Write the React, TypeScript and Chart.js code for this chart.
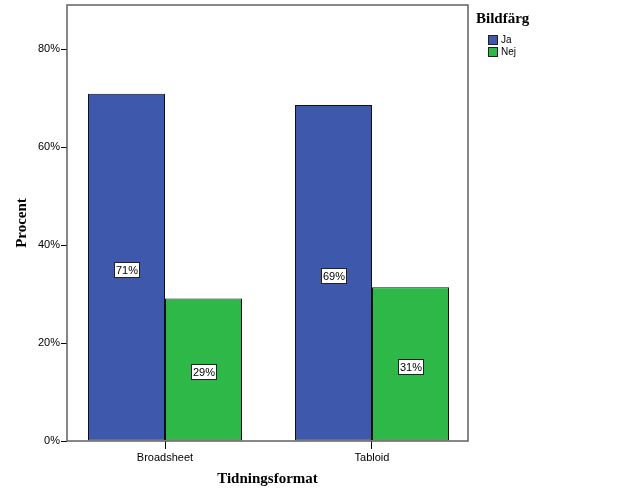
import React, { useEffect, useRef } from 'react';
import { Chart, registerables } from 'chart.js';

Chart.register(...registerables);

const categories = ['Broadsheet', 'Tabloid'];
const seriesNames = ['Ja', 'Nej'];
const jaValues = [70.9, 68.6];
const nejValues = [29.1, 31.4];
const yTicks = [0, 20, 40, 60, 80];
const seriesColors = ['#3E58AC', '#2EB848'];
const xTitle = 'Tidningsformat';
const yTitle = 'Procent';
const legendTitle = 'Bildfärg';

const SANS = '"Liberation Sans", Arial, sans-serif';
const SERIF = '"Liberation Serif", "Times New Roman", serif';

export default function App() {
  const ref = useRef<HTMLCanvasElement | null>(null);

  useEffect(() => {
    if (!ref.current) return;

    const framePlugin = {
      id: 'frame',
      afterDatasetsDraw(chart: any) {
        const { ctx, chartArea } = chart;
        ctx.save();
        ctx.strokeStyle = '#606060';
        ctx.lineWidth = 1.5;
        ctx.strokeRect(chartArea.left, chartArea.top, chartArea.right - chartArea.left, chartArea.bottom - chartArea.top);
        ctx.restore();
      },
    };

    const labelPlugin = {
      id: 'barLabels',
      afterDraw(chart: any) {
        const ctx = chart.ctx;
        ctx.save();
        ctx.font = '11px ' + SANS;
        ctx.textAlign = 'center';
        ctx.textBaseline = 'middle';
        chart.data.datasets.forEach((ds: any, di: number) => {
          const meta = chart.getDatasetMeta(di);
          meta.data.forEach((bar: any, i: number) => {
            const v = ds.data[i].y;
            const text = Math.round(v) + '%';
            const cx = Math.round(bar.x);
            const cy = Math.round((bar.y + bar.base) / 2 + 3);
            const w = Math.round(ctx.measureText(text).width + 4);
            const h = 16;
            const x0 = cx - Math.round(w / 2);
            const y0 = cy - h / 2;
            ctx.fillStyle = '#ffffff';
            ctx.fillRect(x0, y0, w, h);
            ctx.strokeStyle = '#222222';
            ctx.lineWidth = 1;
            ctx.strokeRect(x0 + 0.5, y0 + 0.5, w - 1, h - 1);
            ctx.fillStyle = '#000000';
            ctx.fillText(text, cx, cy + 0.5);
          });
        });
        ctx.restore();
      },
    };

    const legendPlugin = {
      id: 'customLegend',
      afterDraw(chart: any) {
        const ctx = chart.ctx;
        ctx.save();
        ctx.fillStyle = '#000';
        ctx.font = 'bold 15px ' + SERIF;
        ctx.textAlign = 'left';
        ctx.textBaseline = 'middle';
        ctx.fillText(legendTitle, 476, 19);
        ctx.font = '10px ' + SANS;
        chart.data.datasets.forEach((ds: any, i: number) => {
          const y = 35 + i * 12;
          ctx.fillStyle = ds.backgroundColor;
          ctx.fillRect(488, y, 10, 10);
          ctx.strokeStyle = '#222';
          ctx.lineWidth = 1;
          ctx.strokeRect(488.5, y + 0.5, 9, 9);
          ctx.fillStyle = '#000';
          ctx.fillText(ds.label, 501, y + 5.5);
        });
        ctx.restore();
      },
    };

    const chart = new Chart(ref.current, {
      type: 'bar',
      data: {
        datasets: [
          {
            label: seriesNames[0],
            data: categories.map((_, i) => ({ x: i, y: jaValues[i] })),
            backgroundColor: seriesColors[0],
            borderColor: '#111111',
            borderWidth: 1,
            borderSkipped: false,
          },
          {
            label: seriesNames[1],
            data: categories.map((_, i) => ({ x: i, y: nejValues[i] })),
            backgroundColor: seriesColors[1],
            borderColor: '#111111',
            borderWidth: 1,
            borderSkipped: false,
          },
        ],
      },
      options: {
        responsive: false,
        animation: false,
        devicePixelRatio: 1,
        categoryPercentage: 154 / 207,
        barPercentage: 1,
        layout: { padding: { left: 0, top: 5, right: 158, bottom: 0 } },
        plugins: {
          legend: { display: false },
          tooltip: { enabled: false },
        },
        scales: {
          x: {
            type: 'linear',
            offset: false,
            min: (67 - 165) / 207,
            max: 1 + (468 - 372) / 207,
            grid: { offset: false, drawOnChartArea: false, drawTicks: true, tickLength: 8, color: '#000', lineWidth: 1 },
            border: { display: false },
            afterBuildTicks: (s: any) => {
              s.ticks = categories.map((_, i) => ({ value: i }));
            },
            afterFit: (s: any) => {
              s.height = 60;
              s.paddingLeft = 0;
              s.paddingRight = 0;
            },
            ticks: {
              autoSkip: false,
              maxRotation: 0,
              padding: 2,
              color: '#000',
              font: { family: SANS, size: 11 },
              callback: (_v: any, i: number) => categories[i],
            },
            title: {
              display: true,
              text: xTitle,
              color: '#000',
              font: { family: SERIF, size: 15, weight: 'bold', lineHeight: 1.2 },
              padding: { top: 0, bottom: 13 },
            },
          },
          y: {
            type: 'linear',
            min: 0,
            max: 89,
            grid: { drawOnChartArea: false, drawTicks: true, tickLength: 6, color: '#000', lineWidth: 1 },
            border: { display: false },
            afterBuildTicks: (s: any) => {
              s.ticks = yTicks.map((v) => ({ value: v }));
            },
            afterFit: (s: any) => {
              s.width = 67;
              s.paddingTop = 0;
              s.paddingBottom = 0;
            },
            ticks: {
              padding: 1,
              color: '#000',
              font: { family: SANS, size: 11 },
              callback: (v: any) => v + '%',
            },
            title: {
              display: true,
              text: yTitle,
              color: '#000',
              font: { family: SERIF, size: 15, weight: 'bold', lineHeight: 1.2 },
              padding: { top: 13, bottom: 0 },
            },
          },
        },
      },
      plugins: [framePlugin, labelPlugin, legendPlugin],
    } as any);

    return () => chart.destroy();
  }, []);

  return (
    <div style={{ position: 'absolute', left: 0, top: 0, width: 626, height: 501, background: '#fff' }}>
      <canvas ref={ref} width={626} height={501} style={{ display: 'block' }} />
    </div>
  );
}
